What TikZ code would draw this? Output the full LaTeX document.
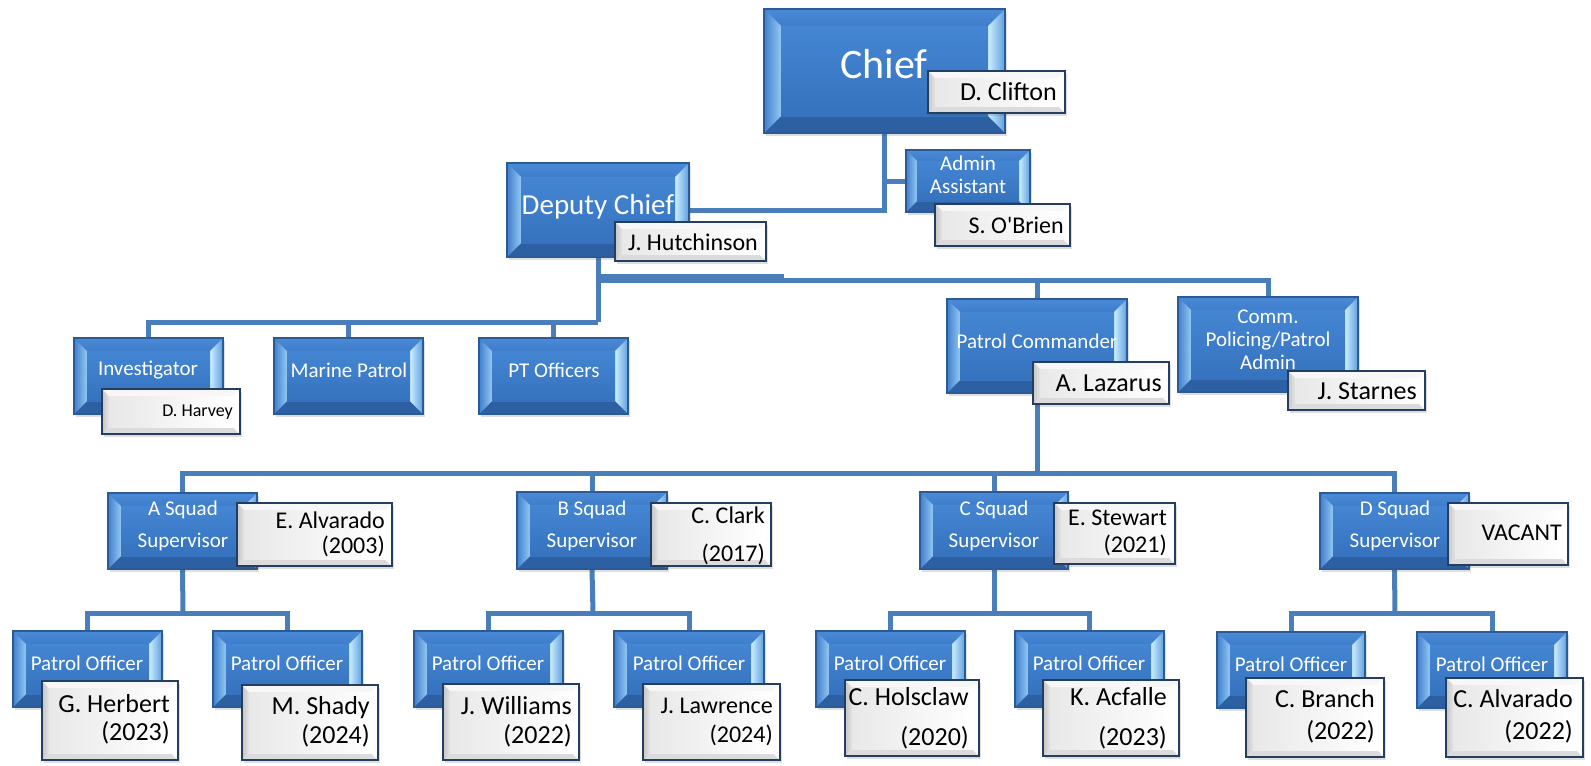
\documentclass[tikz,border=0pt]{standalone}
\usepackage{fontspec}
\setmainfont{Carlito}[Ligatures=TeXOff]
\usetikzlibrary{calc,fit,shadows}
\definecolor{bmainT}{HTML}{4486D3}
\definecolor{bmainB}{HTML}{3672BE}
\definecolor{btopL}{HTML}{4A8AD6}
\definecolor{btop}{HTML}{3E7DCA}
\definecolor{bbot}{HTML}{2D60A2}
\definecolor{bleftout}{HTML}{3F7FCC}
\definecolor{bleftin}{HTML}{93C8F2}
\definecolor{brightin}{HTML}{CBEEFF}
\definecolor{brightout}{HTML}{5E9EDE}
\definecolor{bborder}{HTML}{2B5B97}
\definecolor{conncol}{HTML}{4A7EBB}
\definecolor{nborder}{HTML}{243E62}
\newcommand\fs[2]{\fontsize{#1}{#2}\selectfont}
\newcommand\bluebevel[1]{%
  \coordinate (bnw) at (path picture bounding box.north west);
  \coordinate (bne) at (path picture bounding box.north east);
  \coordinate (bsw) at (path picture bounding box.south west);
  \coordinate (bse) at (path picture bounding box.south east);
  \coordinate (inw) at ($(bnw)+(#1pt,-#1pt)$);
  \coordinate (ine) at ($(bne)+(-#1pt,-#1pt)$);
  \coordinate (isw) at ($(bsw)+(#1pt,#1pt)$);
  \coordinate (ise) at ($(bse)+(-#1pt,#1pt)$);
  \shade[top color=btopL, bottom color=btop] (bnw)--(bne)--(ine)--(inw)--cycle;
  \fill[bbot] (bsw)--(bse)--(ise)--(isw)--cycle;
  \shade[left color=bleftout, right color=bleftin] (bnw)--(inw)--(isw)--(bsw)--cycle;
  \shade[left color=brightin, right color=brightout] (bne)--(ine)--(ise)--(bse)--cycle;
  \shade[top color=bmainT, bottom color=bmainB] (inw)--(ine)--(ise)--(isw)--cycle;
}
\newcommand\greybevel[1]{%
  \coordinate (gnw) at (path picture bounding box.north west);
  \coordinate (gne) at (path picture bounding box.north east);
  \coordinate (gsw) at (path picture bounding box.south west);
  \coordinate (gse) at (path picture bounding box.south east);
  \coordinate (jnw) at ($(gnw)+(#1pt,-#1pt)$);
  \coordinate (jne) at ($(gne)+(-#1pt,-#1pt)$);
  \coordinate (jsw) at ($(gsw)+(#1pt,#1pt)$);
  \coordinate (jse) at ($(gse)+(-#1pt,#1pt)$);
  \fill[gray!6] (gnw)--(gne)--(jne)--(jnw)--cycle;
  \fill[gray!28] (gsw)--(gse)--(jse)--(jsw)--cycle;
  \shade[left color=gray!45, right color=gray!22] (gnw)--(jnw)--(jsw)--(gsw)--cycle;
  \fill[white] (gne)--(jne)--(jse)--(gse)--cycle;
  \shade[left color=gray!18, right color=white] (jnw)--(jne)--(jse)--(jsw)--cycle;
}
\tikzset{
  conn/.style={draw=conncol, line width=5pt},
  bluebox/.style={draw=bborder, line width=1.2pt, fill=bmainB, inner sep=0pt,
    path picture={\bluebevel{#1}},
    drop shadow={shadow xshift=2pt, shadow yshift=-3pt, opacity=0.18, fill=black!70}},
  bluebox/.default=13,
  namebox/.style={draw=nborder, line width=2pt, fill=white, inner sep=0pt,
    path picture={\greybevel{#1}},
    drop shadow={shadow xshift=2pt, shadow yshift=-3pt, opacity=0.18, fill=black!70}},
  namebox/.default=7,
  btext/.style={text=white, inner sep=0pt, align=center, font=\fs{21}{23}},
  ntext/.style={text=black, inner sep=0pt, align=right, anchor=east, font=\fs{26}{28}},
}
\newcommand\BB[6][13]{\node[bluebox=#1, fit={(#3,#4) (#5,#6)}] (#2) {};}
\newcommand\NB[6][7]{\node[namebox=#1, fit={(#3,#4) (#5,#6)}] (#2) {};}
\begin{document}
\begin{tikzpicture}[x=1pt,y=-1pt]
\fill[white] (0,0) rectangle (1591,766);
\useasboundingbox (0,0) rectangle (1591,766);

\coordinate (dj) at (598,322);
\coordinate (dk) at (598,280);
\coordinate (dk2) at (784,276);
\coordinate (sj) at (1037,473);
\coordinate (aj) at (183,613);
\coordinate (bj) at (593,613);
\coordinate (cj) at (994,613);
\coordinate (dj2) at (1395,613);

\begin{scope}[every node/.style={inner sep=0pt}]
\node[fit={(764,9) (1005,133)}] (chiefP) {};
\node[fit={(906,150) (1030,212)}] (adminP) {};
\node[fit={(507,163) (689,257)}] (deputyP) {};
\node[fit={(74,338) (223,414)}] (invP) {};
\node[fit={(274,338) (423,414)}] (marP) {};
\node[fit={(479,338) (628,414)}] (ptP) {};
\node[fit={(947,299) (1127,393)}] (pcP) {};
\node[fit={(1178,297) (1358,392)}] (commP) {};
\node[fit={(108,493) (257,569)}] (asqP) {};
\node[fit={(517,492) (667,569)}] (bsqP) {};
\node[fit={(920,492) (1068,569)}] (csqP) {};
\node[fit={(1320,493) (1469,569)}] (dsqP) {};
\node[fit={(13,631) (162,707)}] (a1P) {};
\node[fit={(213,631) (362,707)}] (a2P) {};
\node[fit={(414,631) (563,707)}] (b1P) {};
\node[fit={(614,631) (764,707)}] (b2P) {};
\node[fit={(816,631) (965,707)}] (c1P) {};
\node[fit={(1015,631) (1164,707)}] (c2P) {};
\node[fit={(1217,632) (1365,708)}] (d1P) {};
\node[fit={(1417,632) (1567,708)}] (d2P) {};
\end{scope}

% ---------- connectors
\draw[conn] (chiefP.south) -- (chiefP.south |- deputyP.east) -- (deputyP.east);
\draw[conn] (chiefP.south |- adminP.west) -- (adminP.west);
\draw[conn] (deputyP.south) -- (dj);
\draw[conn] (invP.north) |- (dj);
\draw[conn] (marP.north) |- (dj);
\draw[conn] (ptP.north) |- (dj);
\draw[conn] (pcP.north) |- (dk);
\draw[conn] (commP.north) |- (dk);
\draw[conn] (dk |- dk2) -- (dk2);
\draw[conn] (pcP.south) -- (sj);
\draw[conn] (asqP.north) |- (sj);
\draw[conn] (bsqP.north) |- (sj);
\draw[conn] (csqP.north) |- (sj);
\draw[conn] (dsqP.north) |- (sj);
\draw[conn] (asqP.south) -- (aj);
\draw[conn] (a1P.north) |- (aj);
\draw[conn] (a2P.north) |- (aj);
\draw[conn] (bsqP.south) -- (bj);
\draw[conn] (b1P.north) |- (bj);
\draw[conn] (b2P.north) |- (bj);
\draw[conn] (csqP.south) -- (cj);
\draw[conn] (c1P.north) |- (cj);
\draw[conn] (c2P.north) |- (cj);
\draw[conn] (dsqP.south) -- (dj2);
\draw[conn] (d1P.north) |- (dj2);
\draw[conn] (d2P.north) |- (dj2);

% ---------- blue boxes
\BB[17]{chief}{764}{9}{1005}{133}
\BB[11]{admin}{906}{150}{1030}{212}
\BB[14]{deputy}{507}{163}{689}{257}
\BB{inv}{74}{338}{223}{414}
\BB{mar}{274}{338}{423}{414}
\BB{pt}{479}{338}{628}{414}
\BB{pc}{947}{299}{1127}{393}
\BB{comm}{1178}{297}{1358}{392}
\BB{asq}{108}{493}{257}{569}
\BB{bsq}{517}{492}{667}{569}
\BB{csq}{920}{492}{1068}{569}
\BB{dsq}{1320}{493}{1469}{569}
\BB{a1}{13}{631}{162}{707}
\BB{a2}{213}{631}{362}{707}
\BB{b1}{414}{631}{563}{707}
\BB{b2}{614}{631}{764}{707}
\BB{c1}{816}{631}{965}{707}
\BB{c2}{1015}{631}{1164}{707}
\BB{d1}{1217}{632}{1365}{708}
\BB{d2}{1417}{632}{1567}{708}

% ---------- blue box texts
\node[btext, font=\fs{42}{46}] (chief-t) at (884,64) {Chief};
\node[btext] (admin-t) at (968,175) {Admin\\Assistant};
\node[btext, font=\fs{29}{32}] (deputy-t) at (598,207) {Deputy Chief};
\node[btext] (inv-t) at (148,370) {Investigator};
\node[btext] (mar-t) at (349,370) {Marine Patrol};
\node[btext] (pt-t) at (554,370) {PT Officers};
\node[btext] (pc-t) at (1037,341) {Patrol Commander};
\node[btext] (comm-t) at (1268,340) {Comm.\\Policing/Patrol\\Admin};
\node[btext, font=\fs{21}{32}] (asq-t) at (183,526) {A Squad\\Supervisor};
\node[btext, font=\fs{21}{32}] (bsq-t) at (592,526) {B Squad\\Supervisor};
\node[btext, font=\fs{21}{32}] (csq-t) at (994,526) {C Squad\\Supervisor};
\node[btext, font=\fs{21}{32}] (dsq-t) at (1395,526) {D Squad\\Supervisor};
\node[btext] (a1-t) at (87,663) {Patrol Officer};
\node[btext] (a2-t) at (287,663) {Patrol Officer};
\node[btext] (b1-t) at (488,663) {Patrol Officer};
\node[btext] (b2-t) at (689,663) {Patrol Officer};
\node[btext] (c1-t) at (890,663) {Patrol Officer};
\node[btext] (c2-t) at (1089,663) {Patrol Officer};
\node[btext] (d1-t) at (1291,664) {Patrol Officer};
\node[btext] (d2-t) at (1492,664) {Patrol Officer};

% ---------- name boxes
\NB{clif}{928}{71}{1065}{113}
\NB{obrien}{935}{204}{1070}{246}
\NB{hutch}{615}{222}{766}{261}
\NB{harvey}{102}{389}{240}{434}
\NB{lazarus}{1033}{362}{1169}{404}
\NB{starnes}{1288}{371}{1425}{410}
\NB{ealv}{237}{503}{392}{566}
\NB{clark}{651}{503}{771}{566}
\NB{stew}{1054}{503}{1175}{564}
\NB{vac}{1448}{503}{1568}{565}
\NB{herb}{42}{681}{178}{760}
\NB{shady}{242}{685}{378}{760}
\NB{will}{443}{684}{579}{760}
\NB{lawr}{643}{684}{780}{760}
\NB{hols}{845}{680}{979}{756}
\NB{acf}{1043}{680}{1179}{756}
\NB{branch}{1246}{678}{1384}{757}
\NB{calv}{1446}{678}{1583}{757}

% ---------- name texts
\node[ntext] (clif-t) at (1057,92) {D. Clifton};
\node[ntext, font=\fs{24}{26}] (obrien-t) at (1064,225) {S. O'Brien};
\node[ntext, font=\fs{24}{26}] (hutch-t) at (758,242) {J. Hutchinson};
\node[ntext, font=\fs{18}{20}] (harvey-t) at (233,412) {D. Harvey};
\node[ntext] (lazarus-t) at (1162,383) {A. Lazarus};
\node[ntext] (starnes-t) at (1417,391) {J. Starnes};
\node[ntext, font=\fs{24}{25}] (ealv-t) at (385,534) {E. Alvarado\\(2003)};
\node[ntext, font=\fs{24}{38}] (clark-t) at (765,536) {C. Clark\\(2017)};
\node[ntext, font=\fs{24}{27}] (stew-t) at (1167,533) {E. Stewart\\(2021)};
\node[ntext, font=\fs{24}{26}] (vac-t) at (1562,533) {VACANT};
\node[ntext, font=\fs{26}{28}] (herb-t) at (170,719) {G. Herbert\\(2023)};
\node[ntext, font=\fs{26}{29}] (shady-t) at (370,722) {M. Shady\\(2024)};
\node[ntext, font=\fs{26}{29}] (will-t) at (572,722) {J. Williams\\(2022)};
\node[ntext, font=\fs{24}{29}] (lawr-t) at (773,722) {J. Lawrence\\(2024)};
\node[ntext, font=\fs{26}{40}] (hols-t) at (969,718) {C. Holsclaw\\(2020)};
\node[ntext, font=\fs{26}{40}] (acf-t) at (1167,718) {K. Acfalle\\(2023)};
\node[ntext, font=\fs{26}{32}] (branch-t) at (1375,716) {C. Branch\\(2022)};
\node[ntext, font=\fs{26}{32}] (calv-t) at (1573,716) {C. Alvarado\\(2022)};
\end{tikzpicture}
\end{document}
